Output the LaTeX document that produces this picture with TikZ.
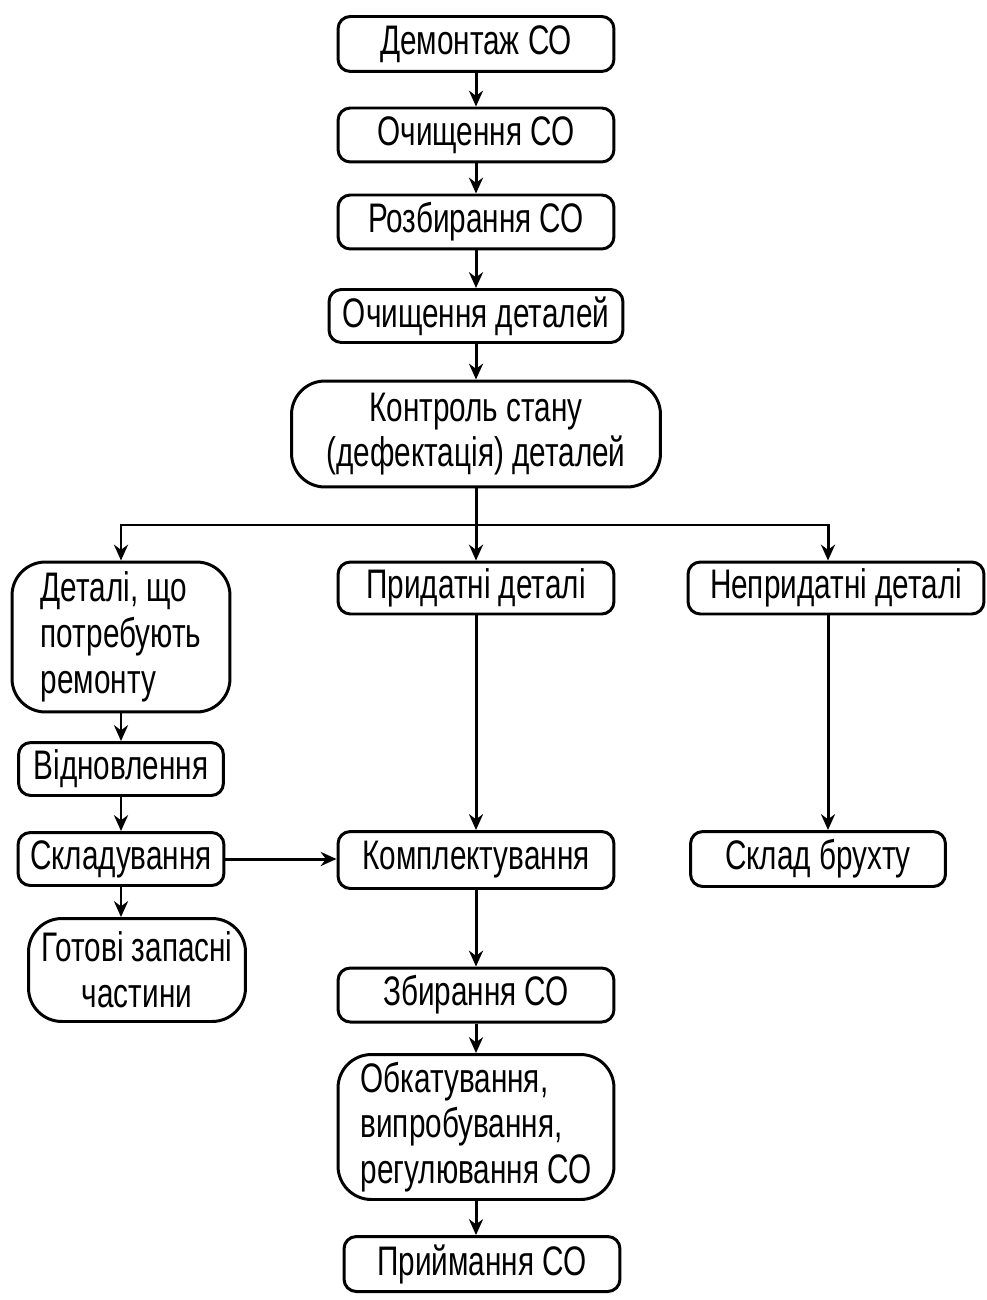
\documentclass[tikz,border=0pt]{standalone}
\usepackage{fontspec}
\setmainfont{Liberation Sans}[FakeStretch=0.72]
\usepackage{xcolor}
\usetikzlibrary{positioning,arrows.meta}

\begin{document}
\begin{tikzpicture}[
x=0.02cm,y=-0.02cm,
box/.style={draw,line width=1.7pt,rounded corners=7pt,align=center,inner sep=0pt,
  font=\fontsize{23.5}{26}\selectfont},
big/.style={box,rounded corners=19pt},
>={Stealth[length=9pt,width=8pt]},
line width=1.7pt
]
\useasboundingbox (0,0) rectangle (986,1300);

\node[box,minimum width=5.52cm,minimum height=1.1cm] (d) at (476,44) {Демонтаж СО};
\node[box,minimum width=5.52cm,minimum height=1.08cm] (o) at (476,135) {Очищення СО};
\node[box,minimum width=5.52cm,minimum height=1.08cm] (r) at (476,222) {Розбирання СО};
\node[box,minimum width=5.88cm,minimum height=1.06cm] (od) at (476,316) {Очищення деталей};
\node[big,minimum width=7.38cm,minimum height=2.12cm] (k) at (476,434) {Контроль стану\\(дефектація) деталей};

\coordinate (m) at (476,525);
\coordinate (mp) at (828,525);

\node[big,minimum width=4.36cm,minimum height=3cm,align=left] (rm) at (121,637) {Деталі, що\\потребують\\ремонту};
\node[box,minimum width=5.52cm,minimum height=1.04cm] (p) at (476,588) {Придатні деталі};
\node[box,minimum width=5.92cm,minimum height=1.04cm] (n) at (836,588) {Непридатні деталі};

\node[box,minimum width=4.1cm,minimum height=1.06cm] (v) at (121,769) {Відновлення};
\node[box,minimum width=4.12cm,minimum height=1.06cm] (s) at (121,859) {Складування};
\node[big,minimum width=4.34cm,minimum height=2.06cm] (g) at (137,970) {Готові запасні\\частини};

\node[box,minimum width=5.52cm,minimum height=1.14cm] (km) at (476,860) {Комплектування};
\node[box,minimum width=5.1cm,minimum height=1.1cm] (b) at (818,859) {Склад брухту};
\node[box,minimum width=5.52cm,minimum height=1.08cm] (z) at (476,995) {Збирання СО};
\node[big,minimum width=5.52cm,minimum height=2.9cm,align=left] (ob) at (476,1127) {Обкатування,\\випробування,\\регулювання СО};
\node[box,minimum width=5.52cm,minimum height=1.1cm] (pr) at (482,1264) {Приймання СО};

\draw[->] (d)--(o);
\draw[->] (o)--(r);
\draw[->] (r)--(od);
\draw[->] (od)--(k);
\draw (k)--(m);
\draw[->] (m)-|(rm.north);
\draw[->] (m)--(p);
\draw[->] (m)--(mp)--(mp |- n.north);
\draw[->] (rm)--(v);
\draw[->] (v)--(s);
\draw[->] (s.south)--(s.south |- g.north);
\draw[->] (s.east)--(s.east -| km.west);
\draw[->] (p)--(km);
\draw[->] (n.south -| mp)--(mp |- b.north);
\draw[->] (km)--(z);
\draw[->] (z)--(ob);
\draw[->] (ob.south)--(ob.south |- pr.north);
\end{tikzpicture}
\end{document}
